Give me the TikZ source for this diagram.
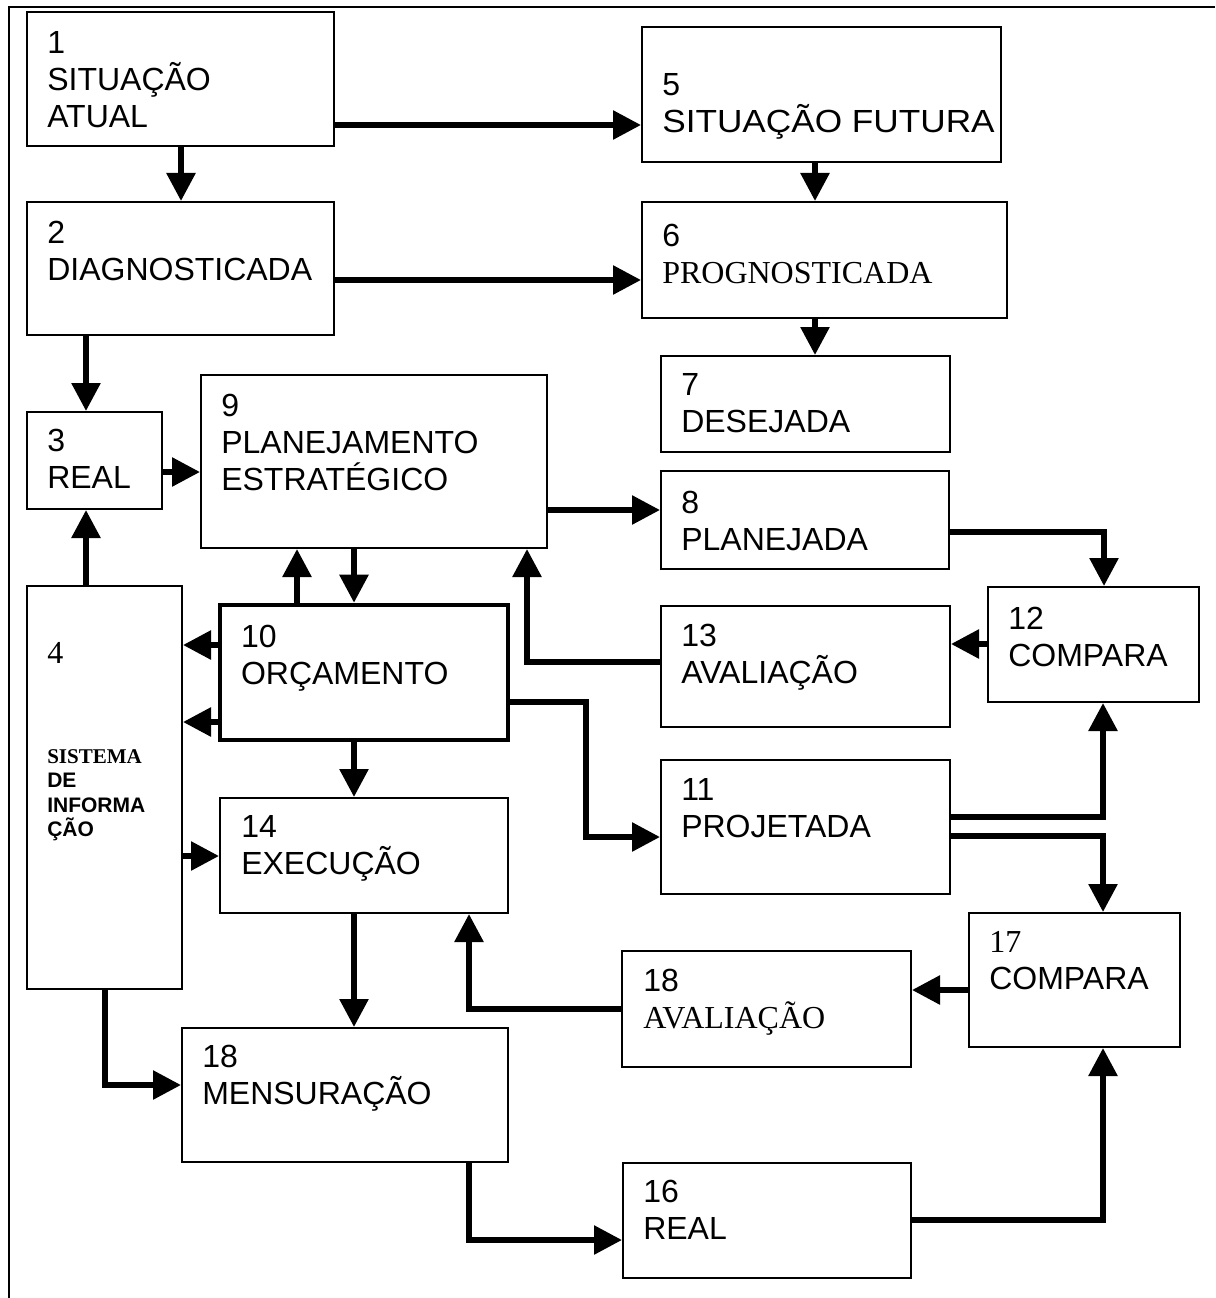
\documentclass[tikz,border=0pt]{standalone}
\usepackage{fontspec}
\setmainfont{Liberation Sans}
\newfontfamily\serifrm{Liberation Serif}
\newfontfamily\widesans[FakeStretch=1.1]{Liberation Sans}
\usetikzlibrary{arrows.meta,fit,calc}
\begin{document}
\begin{tikzpicture}[x=0.75pt,y=-0.75pt,
  box/.style={draw, line width=1.5pt, inner sep=0pt},
  thickbox/.style={draw, line width=3.4pt, inner sep=0pt},
  lab/.style={anchor=north west, inner sep=0pt, align=left,
    font=\fontsize{24pt}{27.75pt}\selectfont},
  conn/.style={line width=4.3pt, -{Triangle[length=21pt,width=21pt]}}]

\useasboundingbox (0,0) rectangle (1215,1298);
% partial frame along the top and left
\draw[line width=1.5pt] (9,1298) -- (9,7) -- (1215,7);

% boxes
\node[box, fit={(27,12) (334,146)}] (b1) {};
\node[box, fit={(27,202) (334,335)}] (b2) {};
\node[box, fit={(27,412) (162,509)}] (b3) {};
\node[box, fit={(27,586) (182,989)}] (b4) {};
\node[box, fit={(642,27) (1001,162)}] (b5) {};
\node[box, fit={(642,202) (1007,318)}] (b6) {};
\node[box, fit={(661,356) (950,452)}] (b7) {};
\node[box, fit={(661,471) (949,569)}] (b8) {};
\node[box, fit={(201,375) (547,548)}] (b9) {};
\node[thickbox, fit={(220,605) (508,740)}] (b10) {};
\node[box, fit={(661,760) (950,894)}] (b11) {};
\node[box, fit={(988,587) (1199,702)}] (b12) {};
\node[box, fit={(661,606) (950,727)}] (b13) {};
\node[box, fit={(220,798) (508,913)}] (b14) {};
\node[box, fit={(623,1163) (911,1278)}] (b16) {};
\node[box, fit={(969,913) (1180,1047)}] (b17) {};
\node[box, fit={(622,951) (911,1067)}] (b18a) {};
\node[box, fit={(182,1028) (508,1162)}] (b18m) {};

% labels
\node[lab] (t1) at ($(b1.north west)+(21,20)$) {1\\SITUAÇÃO\\ATUAL};
\node[lab] (t2) at ($(b2.north west)+(21,20)$) {2\\DIAGNOSTICADA};
\node[lab] (t3) at ($(b3.north west)+(21,18)$) {3\\REAL};
\node[anchor=north west, inner sep=0pt, font=\serifrm\fontsize{24pt}{27.75pt}\selectfont]
  (t4a) at ($(b4.north west)+(21,57)$) {4};
\node[anchor=north west, inner sep=0pt, align=left, font=\bfseries\fontsize{15.75pt}{18.4pt}\selectfont]
  (t4b) at ($(b4.north west)+(21,164)$) {{\serifrm\bfseries SISTEMA}\\DE\\INFORMA\\ÇÃO};
\node[lab] (t5) at ($(b5.north west)+(21,47)$) {5\\{\widesans SITUAÇÃO FUTURA}};
\node[lab] (t6) at ($(b6.north west)+(21,23)$) {6\\{\serifrm PROGNOSTICADA}};
\node[lab] (t7) at ($(b7.north west)+(21,18)$) {7\\DESEJADA};
\node[lab] (t8) at ($(b8.north west)+(21,21)$) {8\\PLANEJADA};
\node[lab] (t9) at ($(b9.north west)+(21,20)$) {9\\PLANEJAMENTO\\ESTRATÉGICO};
\node[lab] (t10) at ($(b10.north west)+(23,22)$) {10\\ORÇAMENTO};
\node[lab] (t11) at ($(b11.north west)+(21,19)$) {11\\PROJETADA};
\node[lab] (t12) at ($(b12.north west)+(21,21)$) {12\\COMPARA};
\node[lab] (t13) at ($(b13.north west)+(21,19)$) {13\\AVALIAÇÃO};
\node[lab] (t14) at ($(b14.north west)+(22,18)$) {14\\EXECUÇÃO};
\node[lab] (t16) at ($(b16.north west)+(21,18)$) {16\\REAL};
\node[lab] (t17) at ($(b17.north west)+(21,19)$) {{\serifrm 17}\\COMPARA};
\node[lab] (t18a) at ($(b18a.north west)+(22,19)$) {18\\{\serifrm AVALIAÇÃO}};
\node[lab] (t18m) at ($(b18m.north west)+(21,18)$) {18\\MENSURAÇÃO};

% connectors
\draw[conn] (b1.east |- 0,125) -- (b5.west |- 0,125);
\draw[conn] (b1.south -| 181,0) -- (b2.north -| 181,0);
\draw[conn] (b2.east |- 0,280) -- (b6.west |- 0,280);
\draw[conn] (b5.south -| 815,0) -- (b6.north -| 815,0);
\draw[conn] (b6.south -| 815,0) -- (b7.north -| 815,0);
\draw[conn] (b2.south -| 86,0) -- (b3.north -| 86,0);
\draw[conn] (b4.north -| 86,0) -- (b3.south -| 86,0);
\draw[conn] (b3.east |- 0,472) -- (b9.west |- 0,472);
\draw[conn] (b9.east |- 0,510) -- (b8.west |- 0,510);
\draw[conn] (b8.east |- 0,532) -| (b12.north -| 1104,0);
\draw[conn] (b12.west |- 0,644) -- (b13.east |- 0,644);
\draw[conn] (b13.west |- 0,662) -| (b9.south -| 527,0);
\draw[conn] (b9.south -| 354,0) -- (b10.north -| 354,0);
\draw[conn] (b10.north -| 297,0) -- (b9.south -| 297,0);
\draw[conn] (b10.west |- 0,645) -- (b4.east |- 0,645);
\draw[conn] (b10.west |- 0,722) -- (b4.east |- 0,722);
\draw[conn] (b10.east |- 0,702) -- ++(76,0) |- (b11.west |- 0,837);
\draw[conn] (b11.east |- 0,817) -| (b12.south -| 1103,0);
\draw[conn] (b11.east |- 0,836) -| (b17.north -| 1103,0);
\draw[conn] (b17.west |- 0,990) -- (b18a.east |- 0,990);
\draw[conn] (b18a.west |- 0,1009) -| (b14.south -| 469,0);
\draw[conn] (b10.south -| 354,0) -- (b14.north -| 354,0);
\draw[conn] (b4.east |- 0,856) -- (b14.west |- 0,856);
\draw[conn] (b14.south -| 354,0) -- (b18m.north -| 354,0);
\draw[conn] (b4.south -| 105,0) |- (b18m.west |- 0,1085);
\draw[conn] (b18m.south -| 469,0) |- (b16.west |- 0,1240);
\draw[conn] (b16.east |- 0,1220) -| (b17.south -| 1103,0);
\end{tikzpicture}
\end{document}
